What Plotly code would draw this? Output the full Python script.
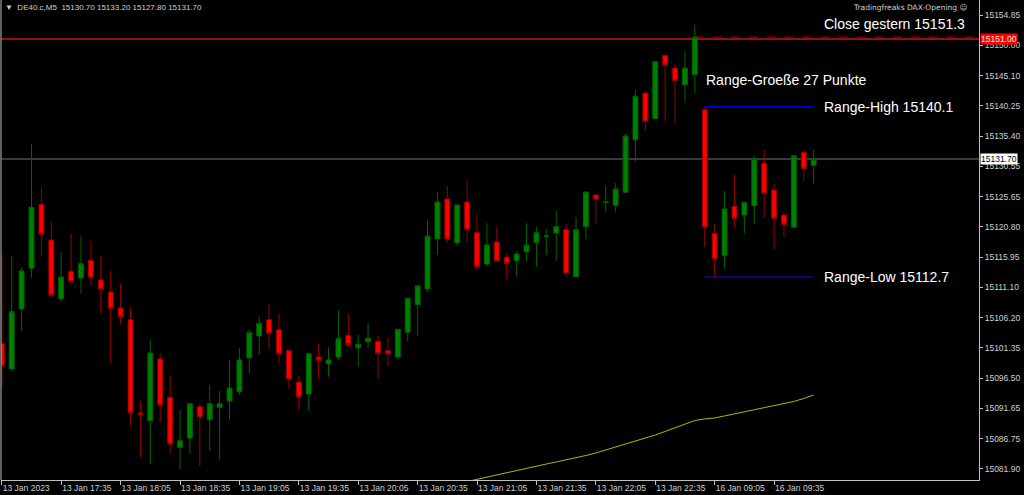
import plotly.graph_objects as go

# ---------------- data ----------------
opens = [15102.10, 15097.97, 15107.61, 15114.15, 15124.43, 15118.70, 15109.26, 15113.67, 15112.59, 15115.43,
         15112.27, 15110.34, 15107.77, 15105.89, 15090.90, 15089.66, 15099.58, 15093.42, 15085.39, 15086.88,
         15091.91, 15089.82, 15091.82, 15092.83, 15094.32, 15099.79, 15103.27, 15105.89, 15104.28, 15100.91,
         15095.88, 15093.95, 15099.90, 15098.82, 15099.90, 15103.38, 15101.39, 15102.36, 15102.42, 15100.91,
         15099.90, 15103.87, 15108.30, 15110.82, 15118.86, 15125.28, 15118.26, 15124.80, 15119.87, 15114.84,
         15118.38, 15115.92, 15115.37, 15116.82, 15118.33, 15119.29, 15119.82, 15120.35, 15112.80, 15120.83,
         15125.93, 15124.75, 15124.27, 15126.36, 15134.81, 15142.32, 15138.19, 15148.37, 15146.33, 15143.65,
         15145.26, 15139.63, 15119.77, 15116.17, 15124.11, 15122.71, 15124.21, 15131.02, 15126.73, 15122.71,
         15120.74, 15132.79, 15130.70]
highs = [15116.45, 15116.13, 15114.25, 15134.12, 15127.10, 15121.70, 15116.72, 15119.66, 15119.29, 15118.49,
         15116.17, 15113.83, 15111.74, 15107.88, 15092.88, 15102.52, 15100.54, 15096.89, 15091.38, 15092.50,
         15092.35, 15095.40, 15094.43, 15099.42, 15101.30, 15104.35, 15106.37, 15108.41, 15106.81, 15101.00,
         15096.84, 15100.50, 15101.99, 15101.46, 15107.40, 15106.85, 15103.43, 15105.36, 15103.38, 15102.95,
         15104.40, 15109.40, 15111.40, 15121.86, 15126.36, 15127.37, 15124.40, 15128.34, 15122.83, 15121.38,
         15120.83, 15116.45, 15116.93, 15121.38, 15120.83, 15120.42, 15123.36, 15121.38, 15122.34, 15126.50,
         15126.00, 15127.42, 15127.90, 15135.84, 15142.80, 15142.40, 15147.40, 15148.40, 15146.82, 15148.90,
         15153.29, 15140.10, 15121.27, 15126.57, 15129.19, 15124.80, 15132.19, 15133.16, 15127.69, 15123.20,
         15132.30, 15132.80, 15133.20]
lows = [15095.13, 15097.54, 15104.07, 15112.64, 15116.13, 15109.50, 15108.78, 15111.90, 15110.07, 15111.47,
        15106.92, 15098.82, 15105.25, 15088.97, 15083.78, 15082.70, 15089.34, 15084.42, 15081.85, 15084.31,
        15082.38, 15084.84, 15083.35, 15089.82, 15093.79, 15097.28, 15100.22, 15101.18, 15098.77, 15094.76,
        15091.38, 15091.27, 15096.31, 15096.73, 15099.37, 15101.39, 15098.34, 15101.39, 15096.36, 15098.34,
        15099.37, 15102.36, 15103.32, 15110.29, 15116.29, 15118.26, 15117.73, 15118.26, 15113.88, 15114.50,
        15115.20, 15112.38, 15112.80, 15115.32, 15114.41, 15116.29, 15115.32, 15112.80, 15112.70, 15118.81,
        15121.38, 15123.24, 15123.24, 15126.30, 15131.28, 15136.21, 15138.10, 15137.71, 15137.29, 15140.76,
        15142.27, 15117.62, 15112.70, 15114.15, 15120.67, 15119.77, 15121.27, 15122.18, 15117.20, 15119.23,
        15120.70, 15128.13, 15127.80]
closes = [15098.50, 15107.18, 15113.72, 15123.95, 15119.61, 15109.81, 15112.75, 15112.00, 15114.89, 15112.64,
          15110.77, 15107.72, 15106.32, 15090.95, 15090.63, 15100.54, 15092.18, 15085.92, 15086.45, 15092.39,
          15090.30, 15092.39, 15092.39, 15094.92, 15099.42, 15103.80, 15105.31, 15103.70, 15100.38, 15096.31,
          15093.42, 15100.43, 15099.37, 15099.42, 15102.90, 15101.87, 15101.94, 15102.90, 15100.43, 15100.38,
          15104.35, 15109.33, 15111.31, 15119.34, 15124.80, 15118.86, 15124.32, 15120.35, 15114.36, 15117.89,
          15115.32, 15114.89, 15116.45, 15117.89, 15119.87, 15119.34, 15120.83, 15113.35, 15120.35, 15126.41,
          15125.28, 15124.80, 15126.89, 15135.41, 15141.79, 15137.77, 15147.35, 15146.82, 15144.29, 15146.33,
          15151.30, 15120.74, 15115.64, 15123.68, 15122.18, 15124.75, 15131.71, 15126.20, 15122.18, 15121.16,
          15132.24, 15130.15, 15131.70]
bar_idx = list(range(len(opens)))

# moving average (yellow), visible part starting at bar 47
ma_start = 47
ma_values = [15079.89, 15080.25, 15080.62, 15080.94, 15081.34, 15081.74, 15082.06, 15082.38, 15082.70, 15083.03,
             15083.35, 15083.75, 15084.07, 15084.47, 15084.96, 15085.44, 15085.84, 15086.32, 15086.80, 15087.36,
             15087.93, 15088.49, 15089.13, 15089.69, 15089.94, 15090.10, 15090.42, 15090.74, 15091.06, 15091.38,
             15091.78, 15092.10, 15092.34, 15092.75, 15093.23, 15093.79]
ma_idx = [ma_start + k for k in range(len(ma_values))]

tick_idx = [0, 6, 12, 18, 24, 30, 36, 42, 48, 54, 60, 66, 72, 78]
tick_text = ["13 Jan 2023", "13 Jan 17:35", "13 Jan 18:05", "13 Jan 18:35", "13 Jan 19:05", "13 Jan 19:35",
             "13 Jan 20:05", "13 Jan 20:35", "13 Jan 21:05", "13 Jan 21:35", "13 Jan 22:05", "13 Jan 22:35",
             "16 Jan 09:05", "16 Jan 09:35"]
y_ticks = [15154.85, 15150.00, 15145.10, 15140.25, 15135.40, 15130.55, 15125.65, 15120.80,
           15115.95, 15111.10, 15106.20, 15101.35, 15096.50, 15091.65, 15086.75, 15081.90]

close_yesterday = 15151.3
hline_red = 15151.00
bid_price = 15131.70
range_high = 15140.1
range_low = 15112.7
range_points = 27
range_start, range_end = 71, 82
close_line_start = 70

header = "▼  DE40.c,M5  15130.70 15133.20 15127.80 15131.70"
indicator_name = "Tradingfreaks DAX-Opening ☺"

x_range = [-0.08, 98.7]
y_range = [15080.13, 15157.26]

# ---------------- figure ----------------
fig = go.Figure()

fig.add_trace(go.Scatter(x=ma_idx, y=ma_values, mode="lines",
                         line=dict(color="#b8b400", width=1), hoverinfo="skip", showlegend=False))

fig.add_trace(go.Candlestick(
    x=bar_idx, open=opens, high=highs, low=lows, close=closes,
    increasing=dict(line=dict(color="#006400", width=1), fillcolor="#008000"),
    decreasing=dict(line=dict(color="#9a0000", width=1), fillcolor="#ff0000"),
    whiskerwidth=0, showlegend=False))

# range lines
fig.add_trace(go.Scatter(x=[range_start, range_end], y=[range_high, range_high], mode="lines",
                         line=dict(color="#0000dd", width=1.5), showlegend=False, hoverinfo="skip"))
fig.add_trace(go.Scatter(x=[range_start, range_end], y=[range_low, range_low], mode="lines",
                         line=dict(color="#0000dd", width=1.5), showlegend=False, hoverinfo="skip"))
# close yesterday dashed line
fig.add_trace(go.Scatter(x=[close_line_start, x_range[1]], y=[close_yesterday, close_yesterday], mode="lines",
                         line=dict(color="#b00000", width=1, dash="dash"), showlegend=False, hoverinfo="skip"))

shapes = [
    dict(type="line", xref="paper", x0=0, x1=1, yref="y", y0=hline_red, y1=hline_red,
         line=dict(color="#d0101c", width=1.5), layer="below"),
    dict(type="line", xref="paper", x0=0, x1=1, yref="y", y0=bid_price, y1=bid_price,
         line=dict(color="#46505a", width=1.5), layer="below"),
    dict(type="line", xref="paper", x0=0, x1=0, yref="paper", y0=0, y1=1,
         line=dict(color="#c0c0c0", width=1)),
]

txt = dict(family="Liberation Sans, Arial, sans-serif", size=14, color="#ffffff")
annotations = [
    dict(x=82.85, y=15153.4, xref="x", yref="y", text=f"Close gestern {close_yesterday}",
         showarrow=False, xanchor="left", yanchor="middle", font=txt),
    dict(x=70.9, y=15144.4, xref="x", yref="y", text=f"Range-Groeße {range_points} Punkte",
         showarrow=False, xanchor="left", yanchor="middle", font=txt),
    dict(x=82.85, y=range_high, xref="x", yref="y", text=f"Range-High {range_high}",
         showarrow=False, xanchor="left", yanchor="middle", font=txt),
    dict(x=82.85, y=range_low, xref="x", yref="y", text=f"Range-Low {range_low}",
         showarrow=False, xanchor="left", yanchor="middle", font=txt),
    dict(x=0.002, y=0.997, xref="paper", yref="paper", text=header, showarrow=False,
         xanchor="left", yanchor="top",
         font=dict(family="Liberation Sans, Arial, sans-serif", size=8, color="#d0d0d0")),
    dict(x=0.99, y=0.997, xref="paper", yref="paper", text=indicator_name, showarrow=False,
         xanchor="right", yanchor="top",
         font=dict(family="DejaVu Sans, Liberation Sans, sans-serif", size=7.5, color="#d0d0d0")),
    dict(x=1, y=hline_red, xref="paper", yref="y", text=f"{hline_red:.2f}", showarrow=False,
         xanchor="left", yanchor="middle", xshift=1, bgcolor="#ff0000", borderpad=0,
         font=dict(family="Liberation Sans, Arial, sans-serif", size=8.5, color="#ffe8e8")),
    dict(x=1, y=bid_price, xref="paper", yref="y", text=f"{bid_price:.2f}", showarrow=False,
         xanchor="left", yanchor="middle", xshift=1, bgcolor="#ffffff", borderpad=0,
         font=dict(family="Liberation Sans, Arial, sans-serif", size=8.5, color="#000000")),
]

fig.update_layout(
    width=1024, height=495,
    margin=dict(l=1, r=45, t=0, b=15),
    paper_bgcolor="#000000", plot_bgcolor="#000000",
    showlegend=False, shapes=shapes, annotations=annotations,
    boxgap=0.3,
    xaxis=dict(range=x_range, rangeslider=dict(visible=False), showgrid=False, zeroline=False,
               tickmode="array", tickvals=tick_idx, ticktext=tick_text,
               ticks="outside", ticklen=4, tickcolor="#c0c0c0",
               ticklabelposition="outside right",
               showline=True, linecolor="#c0c0c0", linewidth=1,
               tickfont=dict(family="Liberation Sans, Arial, sans-serif", size=8.5, color="#d0d0d0")),
    yaxis=dict(range=y_range, side="right", showgrid=False, zeroline=False,
               tickmode="array", tickvals=y_ticks, ticktext=[f"{v:.2f}" for v in y_ticks],
               ticks="outside", ticklen=3, tickcolor="#c0c0c0",
               showline=True, linecolor="#c0c0c0", linewidth=1,
               tickfont=dict(family="Liberation Sans, Arial, sans-serif", size=8.5, color="#d0d0d0")),
)

fig.write_html("out.html", config={"displayModeBar": False},
               post_script="document.body.style.margin='0';document.body.style.background='#000';")
